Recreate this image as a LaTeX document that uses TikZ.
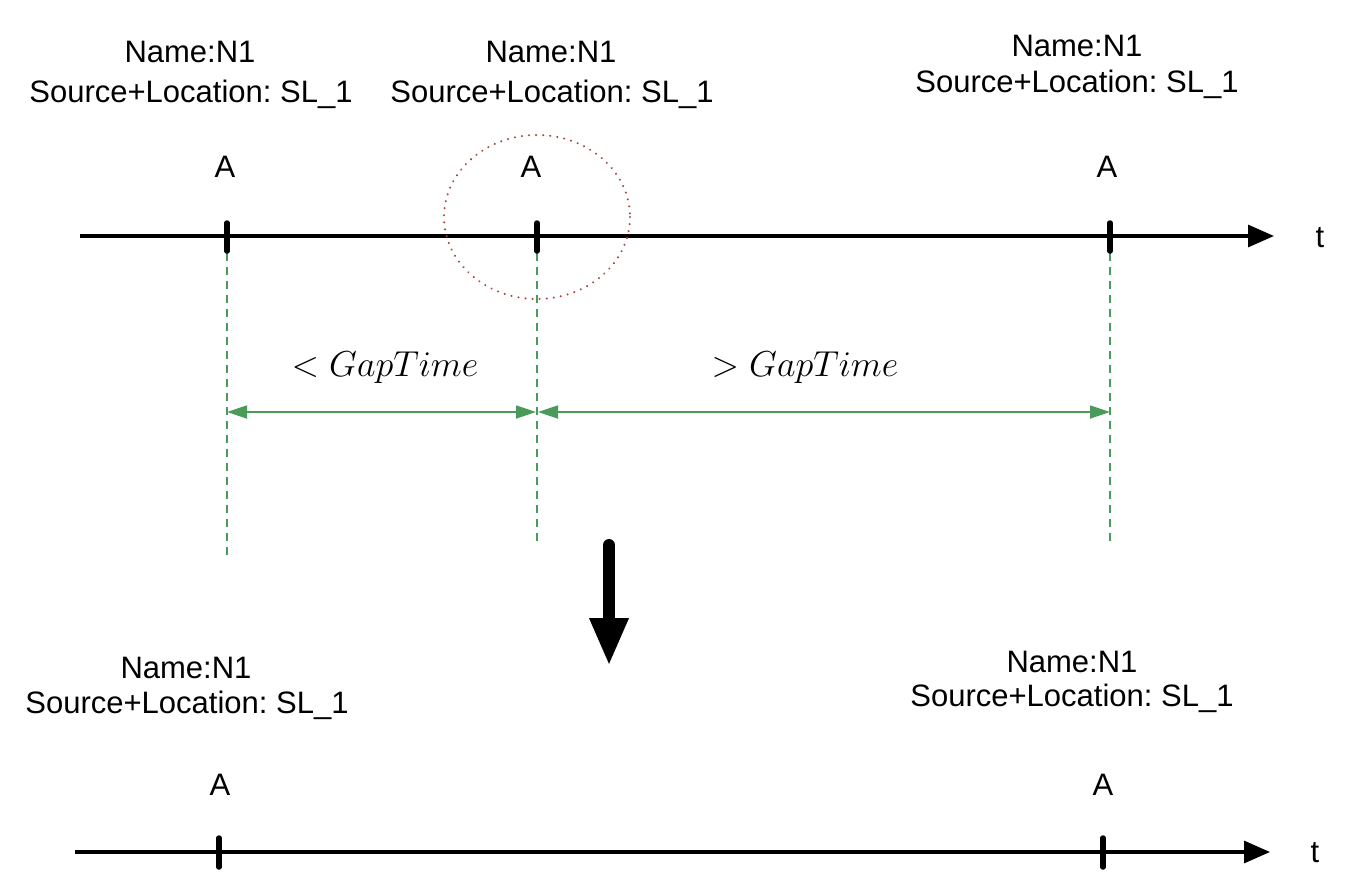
\documentclass[tikz,border=0pt]{standalone}
\usepackage{fontspec}
\setmainfont{Liberation Sans}
\usetikzlibrary{arrows.meta}
\definecolor{gline}{HTML}{4A9A5A}
\definecolor{circ}{HTML}{A8453D}
\frenchspacing
\tikzset{
  lbl/.style={font=\fontsize{31}{36}\selectfont, align=center, inner sep=0pt},
  axis/.style={line width=3.2pt, -{Triangle[length=26pt,width=22pt]}},
  tick/.style={line width=5.5pt, line cap=round},
  vdash/.style={gline, line width=1.5pt, dash pattern=on 8pt off 6pt},
  gap/.style={gline, line width=1.8pt, {Triangle[length=20pt,width=13pt]}-{Triangle[length=20pt,width=13pt]}},
  mlbl/.style={font=\fontsize{24.88}{30}\selectfont, inner sep=0pt, scale=1.45},
  big/.style={line width=12pt, line cap=round, -{Triangle[length=48pt,width=36pt]}}
}
\begin{document}
\begin{tikzpicture}[x=1pt,y=-1pt]
\useasboundingbox (0,0) rectangle (1354,894);
% dashed verticals (drawn first)
\coordinate (k1) at (227,236);
\coordinate (k2) at (537,236);
\coordinate (k3) at (1110,236);
\coordinate (d1) at (227,555);
\coordinate (d2) at (537,545);
\coordinate (d3) at (1110,545);
\draw[vdash] (k1) ++(0,17) -- (d1);
\draw[vdash] (k2) ++(0,17) -- (d2);
\draw[vdash] (k3) ++(0,17) -- (d3);
% top axis
\coordinate (ta0) at (80,236);
\coordinate (ta1) at (1274,236);
\draw[axis] (ta0) -- (ta1);
\node[lbl] (tt) at (1320,238) {t};
\draw[tick] (k1) ++(0,-13) -- ++(0,28);
\draw[tick] (k2) ++(0,-13) -- ++(0,28);
\draw[tick] (k3) ++(0,-13) -- ++(0,28);
\node[lbl] (a1) at (225,167) {A};
\node[lbl] (a2) at (531,167) {A};
\node[lbl] (a3) at (1107,167) {A};
\node[lbl] (n1) at (190,52) {Name:N1};
\node[lbl] (s1) at (191,94) {Source+Location: SL\_1};
\node[lbl] (n2) at (551,52) {Name:N1};
\node[lbl] (s2) at (552,94) {Source+Location: SL\_1};
\node[lbl] (n3) at (1077,46) {Name:N1};
\node[lbl] (s3) at (1077,84) {Source+Location: SL\_1};
% circle
\draw[circ, line width=2.2pt, dash pattern=on 0.1pt off 7pt, line cap=round] (537,217) ellipse [x radius=93, y radius=82];
% gap arrows
\coordinate (g1) at (227,412);
\coordinate (g2) at (536,412);
\coordinate (g3) at (538,412);
\coordinate (g4) at (1110,412);
\draw[gap] (g1) -- (g2);
\draw[gap] (g3) -- (g4);
\node[mlbl] (l1) at (385,368) {$<GapTime$};
\node[mlbl] (l2) at (805,368) {$>GapTime$};
% big arrow
\coordinate (b0) at (609,545);
\coordinate (b1) at (609,666);
\draw[big] (b0) -- (b1);
% bottom axis
\coordinate (ba0) at (75,852);
\coordinate (ba1) at (1270,852);
\draw[axis] (ba0) -- (ba1);
\node[lbl] (bt) at (1315,853) {t};
\coordinate (m1) at (219,852);
\coordinate (m2) at (1103,852);
\draw[tick] (m1) ++(0,-14) -- ++(0,29);
\draw[tick] (m2) ++(0,-14) -- ++(0,29);
\node[lbl] (ba) at (220,785) {A};
\node[lbl] (bb) at (1103,785) {A};
\node[lbl] (bn1) at (186,668) {Name:N1};
\node[lbl] (bs1) at (187,705) {Source+Location: SL\_1};
\node[lbl] (bn2) at (1072,662) {Name:N1};
\node[lbl] (bs2) at (1072,698) {Source+Location: SL\_1};
\end{tikzpicture}
\end{document}
